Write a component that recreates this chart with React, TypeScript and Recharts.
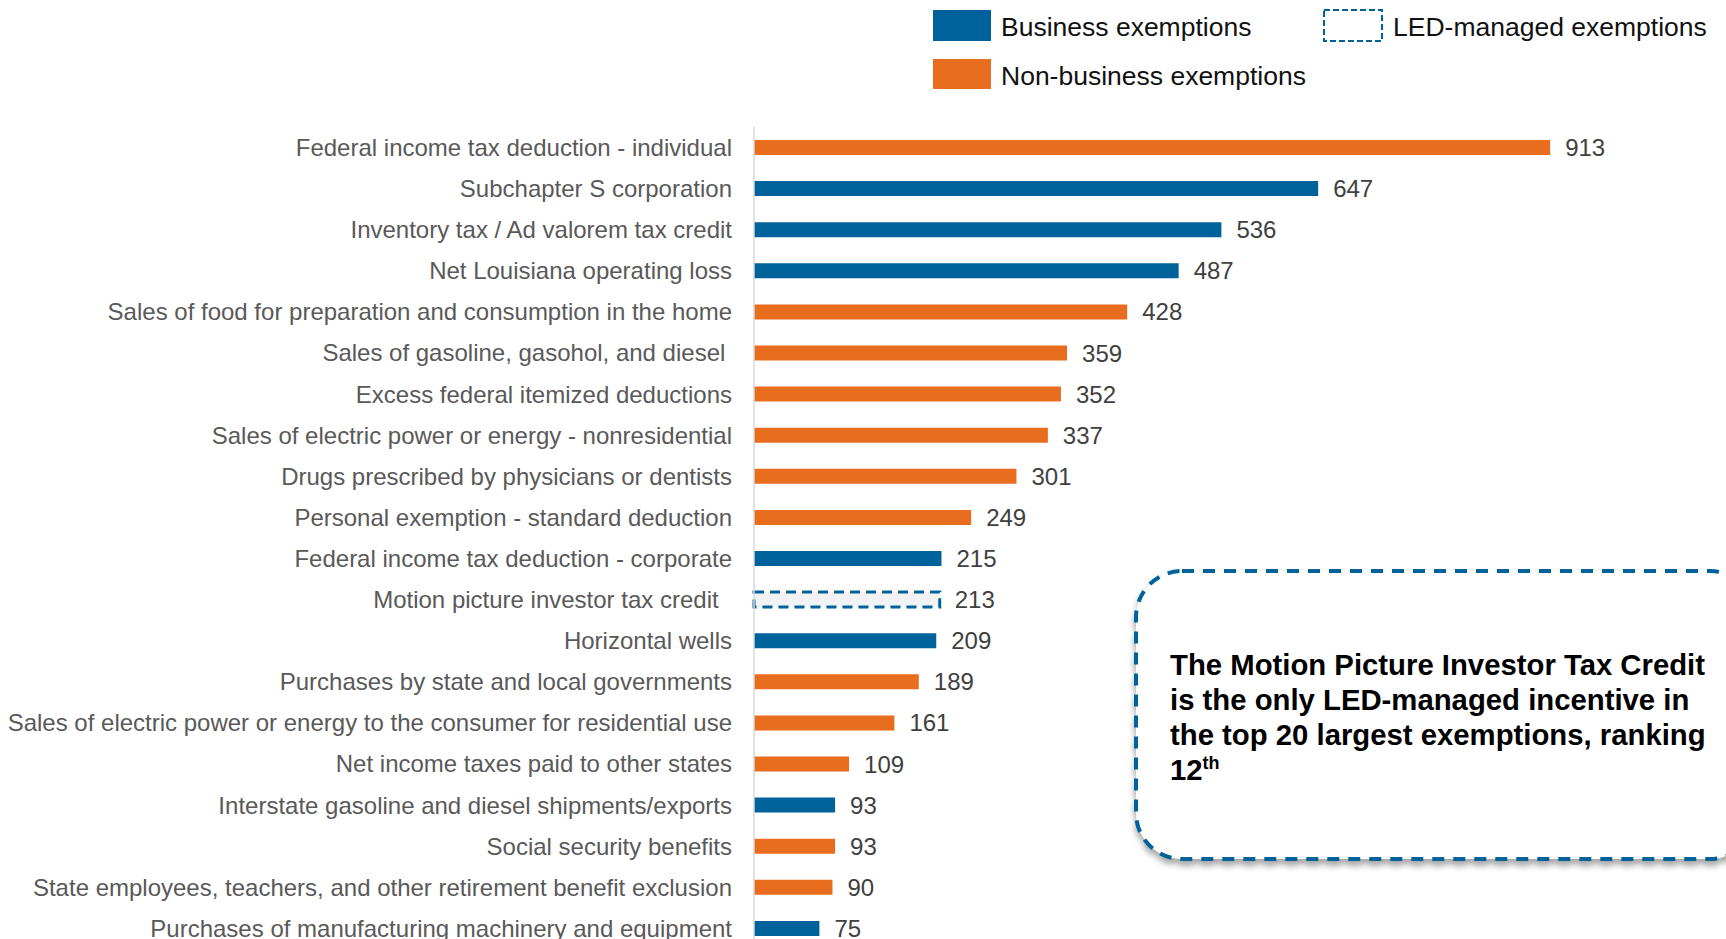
import React from 'react';
import { BarChart, Bar, XAxis, YAxis, Cell, LabelList } from 'recharts';

const categories = [
  'Federal income tax deduction - individual',
  'Subchapter S corporation',
  'Inventory tax / Ad valorem tax credit',
  'Net Louisiana operating loss',
  'Sales of food for preparation and consumption in the home',
  'Sales of gasoline, gasohol, and diesel ',
  'Excess federal itemized deductions',
  'Sales of electric power or energy - nonresidential',
  'Drugs prescribed by physicians or dentists',
  'Personal exemption - standard deduction',
  'Federal income tax deduction - corporate',
  'Motion picture investor tax credit  ',
  'Horizontal wells',
  'Purchases by state and local governments',
  'Sales of electric power or energy to the consumer for residential use',
  'Net income taxes paid to other states',
  'Interstate gasoline and diesel shipments/exports',
  'Social security benefits',
  'State employees, teachers, and other retirement benefit exclusion',
  'Purchases of manufacturing machinery and equipment',
];

const values = [913, 647, 536, 487, 428, 359, 352, 337, 301, 249, 215, 213, 209, 189, 161, 109, 93, 93, 90, 75];

// B = business, N = non-business, L = LED-managed
const types = ['N', 'B', 'B', 'B', 'N', 'N', 'N', 'N', 'N', 'N', 'B', 'L', 'B', 'N', 'N', 'N', 'B', 'N', 'N', 'B'];

const legendLabels = ['Business exemptions', 'Non-business exemptions', 'LED-managed exemptions'];

const BLUE = '#00629B';
const ORANGE = '#E86D1F';
const FONT = '"Liberation Sans", Arial, sans-serif';

const data = categories.map((name, i) => ({ name, value: values[i], type: types[i] }));

const Tick = (props: any) => {
  const { x, y, payload } = props;
  return (
    <text
      x={x}
      y={y}
      dy="0.35em"
      textAnchor="end"
      fill="#595959"
      fontSize={24}
      fontFamily={FONT}
      xmlSpace="preserve"
      style={{ whiteSpace: 'pre' }}
    >
      {payload.value}
    </text>
  );
};

export default function App() {
  return (
    <div
      style={{
        position: 'absolute',
        left: 0,
        top: 0,
        width: 1726,
        height: 939,
        overflow: 'hidden',
        background: '#fff',
        fontFamily: FONT,
      }}
    >
      <BarChart
        width={1726}
        height={949}
        data={data}
        layout="vertical"
        margin={{ top: 127, right: 100, left: 0, bottom: 0 }}
      >
        <XAxis type="number" domain={[0, 1000]} hide />
        <YAxis
          type="category"
          dataKey="name"
          width={754}
          tickLine={false}
          tickSize={0}
          tickMargin={22}
          axisLine={{ stroke: '#d9d9d9', strokeWidth: 1.5 }}
          tick={<Tick />}
          interval={0}
        />
        <Bar dataKey="value" barSize={15} isAnimationActive={false}>
          {data.map((d, i) =>
            d.type === 'L' ? (
              <Cell key={i} fill="#f2f2f2" stroke={BLUE} strokeWidth={3} strokeDasharray="10 6" />
            ) : (
              <Cell key={i} fill={d.type === 'B' ? BLUE : ORANGE} />
            )
          )}
          <LabelList
            dataKey="value"
            position="right"
            offset={15}
            fill="#404040"
            fontSize={24}
            fontFamily={FONT}
          />
        </Bar>
      </BarChart>

      {/* Legend */}
      <div style={{ position: 'absolute', left: 933, top: 10, width: 58, height: 31, background: BLUE }} />
      <div style={{ position: 'absolute', left: 1001, top: 12, height: 31, lineHeight: '31px', fontSize: 26.5, color: '#111' }}>
        {legendLabels[0]}
      </div>
      <div style={{ position: 'absolute', left: 933, top: 59, width: 58, height: 30, background: ORANGE }} />
      <div style={{ position: 'absolute', left: 1001, top: 61, height: 31, lineHeight: '31px', fontSize: 26.5, color: '#111' }}>
        {legendLabels[1]}
      </div>
      <svg style={{ position: 'absolute', left: 1322, top: 8 }} width={64} height={36}>
        <rect x={2} y={2} width={58} height={31} fill="#fff" stroke={BLUE} strokeWidth={2} strokeDasharray="6 3" />
      </svg>
      <div style={{ position: 'absolute', left: 1393, top: 12, height: 31, lineHeight: '31px', fontSize: 26.5, color: '#111' }}>
        {legendLabels[2]}
      </div>

      {/* Callout */}
      <svg
        style={{ position: 'absolute', left: 1128, top: 563, filter: 'drop-shadow(0px 5px 3px rgba(0,0,0,0.35))' }}
        width={640}
        height={310}
      >
        <rect x={8} y={8} width={620} height={288} rx={46} ry={46} fill="#fff" stroke={BLUE} strokeWidth={4} strokeDasharray="12 9" />
      </svg>
      <div
        style={{
          position: 'absolute',
          left: 1170,
          top: 647,
          fontSize: 29.3,
          lineHeight: '35px',
          fontWeight: 'bold',
          color: '#000',
          whiteSpace: 'nowrap',
        }}
      >
        The Motion Picture Investor Tax Credit
        <br />
        is the only LED-managed incentive in
        <br />
        the top 20 largest exemptions, ranking
        <br />
        12
        <span style={{ fontSize: 18, position: 'relative', top: -11, lineHeight: 0 }}>th</span>
      </div>
    </div>
  );
}
